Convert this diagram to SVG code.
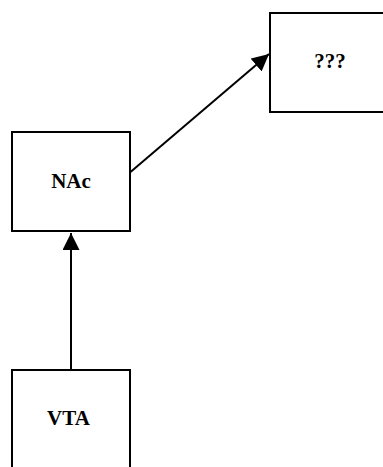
<svg xmlns="http://www.w3.org/2000/svg" width="383" height="467" viewBox="0 0 383 467">
<style>
.box{fill:#fff;stroke:#000;stroke-width:2}
.lbl{font-family:"Liberation Serif",serif;font-weight:bold;font-size:21px;text-anchor:middle;fill:#000}
.edge{stroke:#000;stroke-width:2;fill:none}
</style>
<defs>
<marker id="ah" markerUnits="userSpaceOnUse" markerWidth="18" markerHeight="17" refX="17" refY="8.5" orient="auto">
<path d="M0,0 L17,8.5 L0,17 Z" fill="#000"/>
</marker>
</defs>
<rect width="383" height="467" fill="#fff"/>
<g id="connectors">
<line class="edge" x1="130.5" y1="172" x2="269" y2="54" marker-end="url(#ah)"/>
<line class="edge" x1="71" y1="370" x2="71" y2="233" marker-end="url(#ah)"/>
</g>
<g id="node-unknown">
<rect class="box" x="270" y="13" width="130" height="99"/>
<text class="lbl" x="330" y="68">???</text>
</g>
<g id="node-nac">
<rect class="box" x="12" y="132" width="118" height="99"/>
<text class="lbl" x="71" y="188">NAc</text>
</g>
<g id="node-vta">
<rect class="box" x="12" y="370" width="118" height="110"/>
<text class="lbl" x="68.5" y="425">VTA</text>
</g>
</svg>
